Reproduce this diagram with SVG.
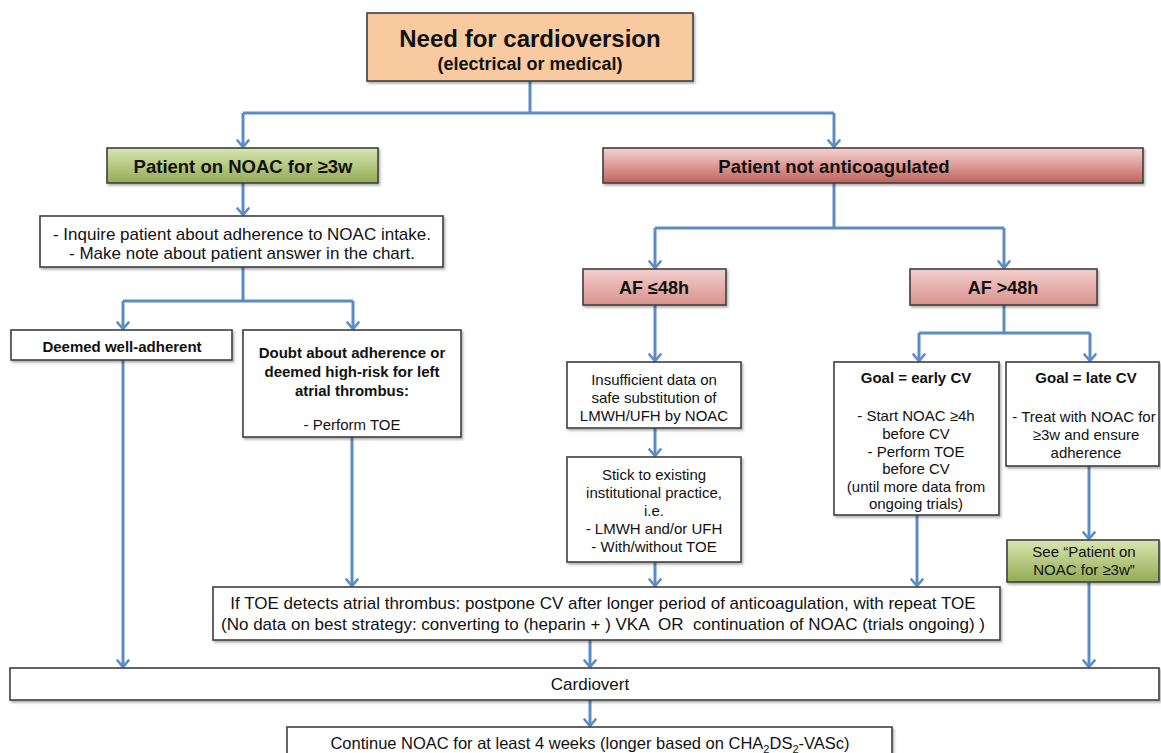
<svg xmlns="http://www.w3.org/2000/svg" width="1161" height="753" viewBox="0 0 1161 753">
<defs>
<linearGradient id="gGreen" x1="0" y1="0" x2="0" y2="1"><stop offset="0" stop-color="#d9e6b0"/><stop offset="1" stop-color="#93ab55"/></linearGradient>
<linearGradient id="gRed" x1="0" y1="0" x2="0" y2="1"><stop offset="0" stop-color="#f6d3d0"/><stop offset="1" stop-color="#c2625c"/></linearGradient>
<linearGradient id="gPink" x1="0" y1="0" x2="0" y2="1"><stop offset="0" stop-color="#f4cfcd"/><stop offset="1" stop-color="#d9918d"/></linearGradient>
<filter id="sh" x="-5%" y="-10%" width="110%" height="130%"><feDropShadow dx="1.5" dy="2" stdDeviation="1.2" flood-color="#000" flood-opacity="0.3"/></filter>
<marker id="ah" viewBox="0 0 14 14" refX="7" refY="12.5" markerWidth="14" markerHeight="14" markerUnits="userSpaceOnUse" orient="0">
<path d="M1.5 6 L7 12.5 L12.5 6" fill="none" stroke="#5b8cc8" stroke-width="2.6" stroke-linecap="round" stroke-linejoin="round"/>
</marker>
<style>
.box{fill:#fff;stroke:#3f3f3f;stroke-width:1.6;filter:url(#sh)}
.c{fill:none;stroke:#5b8cc8;stroke-width:3}
.a{fill:none;stroke:#5b8cc8;stroke-width:3;marker-end:url(#ah)}
text{font-family:"Liberation Sans",Arial,sans-serif;fill:#111;text-anchor:middle}
.b{font-weight:bold}
.r15{font-size:15px}
.b15{font-size:15px;font-weight:bold}
.big{font-size:17px}
.pre{white-space:pre}
</style>
</defs>

<g id="connectors">
<path class="c" d="M530 81 V113 M243 113 H834"/>
<path class="a" d="M243 113 V147"/>
<path class="a" d="M834 113 V147"/>
<path class="a" d="M243 183 V215"/>
<path class="c" d="M243 267 V301 M123 301 H353"/>
<path class="a" d="M123 301 V329"/>
<path class="a" d="M353 301 V329"/>
<path class="c" d="M834 183 V228 M655 228 H1004"/>
<path class="a" d="M655 228 V268"/>
<path class="a" d="M1004 228 V268"/>
<path class="a" d="M655 305 V361"/>
<path class="a" d="M655 428 V456"/>
<path class="a" d="M655 562 V586"/>
<path class="c" d="M1004 305 V333 M919 333 H1090"/>
<path class="a" d="M919 333 V361"/>
<path class="a" d="M1090 333 V361"/>
<path class="a" d="M1089 466 V539"/>
<path class="a" d="M917 515 V586"/>
<path class="a" d="M352 437 V586"/>
<path class="a" d="M123 360 V667"/>
<path class="a" d="M1089 582 V667"/>
<path class="a" d="M590 640 V667"/>
<path class="a" d="M590 700 V726"/>
</g>

<g id="n-need">
<rect x="367" y="13" width="326" height="68" fill="#f9c9a0" stroke="#3f3f3f" stroke-width="1.6" filter="url(#sh)"/>
<text x="530" y="47" class="b" font-size="24">Need for cardioversion</text>
<text x="530" y="70" class="b" font-size="18">(electrical or medical)</text>
</g>

<g id="n-noac">
<rect x="107" y="148" width="271" height="35" fill="url(#gGreen)" stroke="#3f3f3f" stroke-width="1.6" filter="url(#sh)"/>
<text x="243" y="173" class="b" font-size="18.5">Patient on NOAC for ≥3w</text>
</g>

<g id="n-notanti">
<rect x="603" y="148" width="540" height="35" fill="url(#gRed)" stroke="#3f3f3f" stroke-width="1.6" filter="url(#sh)"/>
<text x="834" y="173" class="b" font-size="18.5">Patient not anticoagulated</text>
</g>

<g id="n-inquire">
<rect class="box" x="40" y="216" width="403" height="51"/>
<text x="242" y="240" class="big">- Inquire patient about adherence to NOAC intake.</text>
<text x="242" y="259" class="big">- Make note about patient answer in the chart.</text>
</g>

<g id="n-deemed">
<rect class="box" x="11" y="330" width="221" height="30"/>
<text x="122" y="352" class="b15">Deemed well-adherent</text>
</g>

<g id="n-doubt">
<rect class="box" x="243" y="330" width="218" height="107"/>
<text x="352" y="358" class="b15">Doubt about adherence or</text>
<text x="352" y="377" class="b15">deemed high-risk for left</text>
<text x="352" y="396" class="b15">atrial thrombus:</text>
<text x="352" y="430" class="r15">- Perform TOE</text>
</g>

<g id="n-af48">
<rect x="583" y="269" width="143" height="36" fill="url(#gPink)" stroke="#3f3f3f" stroke-width="1.6" filter="url(#sh)"/>
<text x="654" y="294" class="b" font-size="18">AF ≤48h</text>
</g>

<g id="n-afgt48">
<rect x="910" y="269" width="187" height="36" fill="url(#gPink)" stroke="#3f3f3f" stroke-width="1.6" filter="url(#sh)"/>
<text x="1003" y="294" class="b" font-size="18">AF &gt;48h</text>
</g>

<g id="n-insufficient">
<rect class="box" x="567" y="362" width="174" height="66"/>
<text x="654" y="385" class="r15">Insufficient data on</text>
<text x="654" y="403" class="r15">safe substitution of</text>
<text x="654" y="421" class="r15">LMWH/UFH by NOAC</text>
</g>

<g id="n-stick">
<rect class="box" x="567" y="457" width="174" height="105"/>
<text x="654" y="480" class="r15">Stick to existing</text>
<text x="654" y="498" class="r15">institutional practice,</text>
<text x="654" y="516" class="r15">i.e.</text>
<text x="654" y="534" class="r15">- LMWH and/or UFH</text>
<text x="654" y="552" class="r15">- With/without TOE</text>
</g>

<g id="n-early">
<rect class="box" x="834" y="362" width="165" height="153"/>
<text x="916" y="383" class="b15">Goal = early CV</text>
<text x="916" y="421" class="r15">- Start NOAC ≥4h</text>
<text x="916" y="439" class="r15">before CV</text>
<text x="916" y="457" class="r15">- Perform TOE</text>
<text x="916" y="474" class="r15">before CV</text>
<text x="916" y="492" class="r15">(until more data from</text>
<text x="916" y="509" class="r15">ongoing trials)</text>
</g>

<g id="n-late">
<rect class="box" x="1006" y="362" width="153" height="104"/>
<text x="1086" y="383" class="b15">Goal = late CV</text>
<text x="1084" y="422" class="r15">- Treat with NOAC for</text>
<text x="1086" y="440" class="r15">≥3w and ensure</text>
<text x="1086" y="458" class="r15">adherence</text>
</g>

<g id="n-see">
<rect x="1007" y="540" width="152" height="42" fill="url(#gGreen)" stroke="#3f3f3f" stroke-width="1.6" filter="url(#sh)"/>
<text x="1084" y="557" class="r15">See “Patient on</text>
<text x="1084" y="575" class="r15">NOAC for ≥3w”</text>
</g>

<g id="n-toe">
<rect class="box" x="213" y="587" width="787" height="53"/>
<text x="603" y="609" class="big">If TOE detects atrial thrombus: postpone CV after longer period of anticoagulation, with repeat TOE</text>
<text x="603" y="630" class="big pre">(No data on best strategy: converting to (heparin + ) VKA  OR  continuation of NOAC (trials ongoing) )</text>
</g>

<g id="n-cardiovert">
<rect class="box" x="10" y="668" width="1149" height="32"/>
<text x="590" y="690" class="big">Cardiovert</text>
</g>

<g id="n-continue">
<rect class="box" x="287" y="727" width="605" height="40"/>
<text x="590" y="749" font-size="16.5">Continue NOAC for at least 4 weeks (longer based on CHA<tspan font-size="11" dy="4">2</tspan><tspan dy="-4">DS</tspan><tspan font-size="11" dy="4">2</tspan><tspan dy="-4">-VASc)</tspan></text>
</g>
</svg>
